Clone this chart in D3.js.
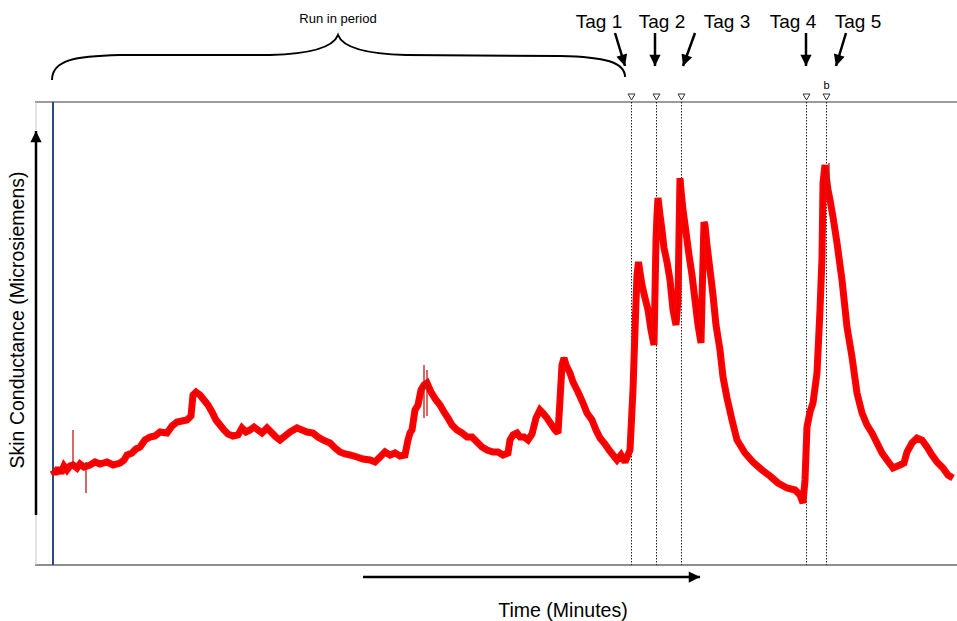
<!DOCTYPE html>
<html><head><meta charset="utf-8">
<script src="https://cdn.jsdelivr.net/npm/d3@7"></script>
<style>html,body{margin:0;padding:0;background:#fff;}svg{display:block;font-family:"Liberation Sans",Arial,sans-serif;}</style>
</head><body>
<svg id="c" width="957" height="621"></svg>
<script>
// ---- data (time in minutes, skin conductance in microsiemens, arbitrary scale) ----
const timeMin = [0,0.2,0.5,0.8,1.1,1.4,1.7,2,2.4,2.7,3.1,3.7,4.2,4.7,5.4,6,6.7,7.1,7.4,7.9,8.3,8.7,9.2,9.7,10.2,10.7,11.4,11.9,12.4,12.9,13.4,13.8,14,14.3,14.7,15.1,15.5,15.9,16.3,16.7,17.1,17.5,18,18.5,18.9,19.3,19.7,20.1,20.5,20.9,21.4,21.8,22.3,22.7,23.2,23.7,24.4,24.9,25.4,26,26.5,27,27.7,28.2,28.7,29.2,29.7,30.4,31,31.7,32.2,32.7,33.2,33.7,34.2,34.7,35.2,35.5,35.7,35.9,36.2,36.5,36.8,37.1,37.4,37.8,38.3,38.7,39.1,39.5,39.9,40.4,40.9,41.4,41.9,42.4,42.9,43.4,44,44.5,45,45.5,45.7,46,46.4,46.7,47.1,47.5,47.9,48.3,48.7,49,49.4,49.8,50.2,50.5,50.7,50.9,51.1,51.3,51.7,52,52.5,53,53.4,53.9,54.3,54.7,55.2,55.6,56,56.4,56.8,57.2,57.5,57.7,58,58.2,58.4,58.55,58.7,58.9,59.2,59.5,59.8,60.1,60.3,60.4,60.5,60.7,60.9,61.1,61.4,61.7,62,62.3,62.5,62.6,62.7,62.8,63,63.3,63.6,63.9,64.2,64.5,64.8,64.9,65.1,65.2,65.4,65.7,66,66.3,66.7,67,67.4,67.9,68.4,69.2,70,70.9,71.7,72.5,73.4,74.2,74.7,75,75.2,75.4,75.7,76,76.4,76.7,76.9,77,77.2,77.3,77.5,77.7,78,78.4,78.9,79.4,79.9,80.4,80.9,81.4,81.9,82.4,82.9,83.4,84,84.7,85.1,85.4,85.9,86.4,86.9,87.4,87.9,88.4,89,89.5,90,90.4];
const conductance = [9.5,9.1,9.7,9.2,9.9,9.5,9.9,10,9.7,10.1,9.8,10,10.3,10.1,10.3,10,10.2,10.5,11,11.2,11.6,11.8,12.5,12.8,12.9,13.3,13.2,13.9,14.3,14.4,14.5,14.9,17,17.3,17,16.5,16,15.3,14.5,14,13.5,13.1,12.9,13,13.7,13.3,13.5,13.8,13.5,13.2,13.7,13.3,12.8,12.5,12.9,13.3,13.7,13.5,13.3,13.2,12.8,12.5,12.2,11.7,11.3,11.1,11,10.8,10.6,10.5,10.3,10.8,11.3,11,11.2,10.9,11,12.5,13.2,13.5,15.5,16,17.5,18,18.2,17.3,16.5,16,15.3,14.7,14,13.5,13.2,12.8,12.8,12.3,11.8,11.5,11.3,11.3,11,11.2,12.5,13,13.2,12.8,12.8,12.5,13.1,14.7,15.5,15.2,14.7,14.1,13.5,13.2,16.5,20,20.7,20,19.2,18.3,17.3,16.2,15.2,14.5,13.5,12.7,12.1,11.5,11,10.5,11,10.3,11,11.5,17.5,23.5,29,30.3,29.3,28,26.7,25.5,23.5,22,32.5,35,36.7,35,33.5,31.7,30.3,28.5,25.5,24,26.5,33,38.7,37.5,35.5,33.3,31,29,26.5,24,22.2,26.5,34.3,34,32,29.5,27,24,21.5,18.8,16.7,14.5,12.5,11.2,10.3,9.5,8.9,8.2,7.7,7.5,7,6.2,8.5,13.8,15.3,16.2,19.2,25.5,30.7,38.2,40,39,37.5,36.5,34.8,32.2,28.5,23.8,20.8,17.2,15.2,14,13.2,12.2,11.2,10.5,9.7,10,10.2,11.3,12.2,12.7,12.5,11.8,11,10.3,9.7,9,8.7];
// thin single-sample artefacts (time, low, high)
const spikeTime = [2, 3.3, 37.1, 37.4, 77.6];
const spikeLow  = [9.7, 7.2, 14.7, 14.9, 37.0];
const spikeHigh = [13.5, 10.3, 20, 19.5, 40.2];
// event tags
const tagNames = ["Tag 1","Tag 2","Tag 3","Tag 4","Tag 5"];
const tagTime  = [57.8, 60.3, 62.8, 75.3, 77.3];
const tagMark  = ["", "", "", "", "b"];
const runInLabel = "Run in period";
const yTitle = "Skin Conductance (Microsiemens)";
const xTitle = "Time (Minutes)";

// ---- layout ----
const svg = d3.select("#c");
const x = d3.scaleLinear().domain([0, 90.4]).range([53, 957]);
const y = d3.scaleLinear().domain([0, 46.3]).range([565, 102]);
const plotLeft = 36, plotRight = 957, plotTop = 102, plotBottom = 565;

const defs = svg.append("defs");
defs.append("marker").attr("id","ah").attr("viewBox","0 0 10 10").attr("refX",10).attr("refY",5)
  .attr("markerWidth",5).attr("markerHeight",4.5).attr("markerUnits","strokeWidth").attr("orient","auto")
  .append("path").attr("d","M0,0 L10,5 L0,10 Z").attr("fill","#000");

// frame
svg.append("line").attr("x1",plotLeft-1).attr("x2",plotRight).attr("y1",plotTop).attr("y2",plotTop).attr("stroke","#7a7a7a").attr("stroke-width",1.5);
svg.append("line").attr("x1",plotLeft-1).attr("x2",plotRight).attr("y1",plotBottom).attr("y2",plotBottom).attr("stroke","#6a6a6a").attr("stroke-width",1.3);
svg.append("line").attr("x1",plotLeft).attr("x2",plotLeft).attr("y1",plotTop).attr("y2",plotBottom).attr("stroke","#c8c8c8").attr("stroke-width",1);
// start marker (blue)
svg.append("line").attr("x1",x(0)).attr("x2",x(0)).attr("y1",plotTop).attr("y2",plotBottom).attr("stroke","#2c4a86").attr("stroke-width",2);

// tag dotted lines + triangles
tagTime.forEach((t,i)=>{
  const tx = Math.round(x(t))+0.5;
  svg.append("line").attr("x1",tx).attr("x2",tx).attr("y1",plotTop).attr("y2",plotBottom)
    .attr("stroke","#222").attr("stroke-width",1).attr("stroke-dasharray","1.5,1.5");
  svg.append("path").attr("d",`M${tx-3.5},94 L${tx+3.5},94 L${tx},100 Z`).attr("fill","#fff").attr("stroke","#333").attr("stroke-width",1);
  if (tagMark[i]) svg.append("text").attr("x",tx).attr("y",89).attr("text-anchor","middle").attr("font-size",11).text(tagMark[i]);
});

// trace
const pts = timeMin.map((t,i)=>[t, conductance[i]]);
const line = d3.line().x(d=>x(d[0])).y(d=>y(d[1]));
svg.append("path").datum(pts).attr("d",line).attr("fill","none").attr("stroke","#ff0000").attr("stroke-width",7).attr("stroke-linejoin","miter").attr("stroke-miterlimit",2);
svg.append("path").datum(pts).attr("d",line).attr("fill","none").attr("stroke","#e00000").attr("stroke-width",1.2);
spikeTime.forEach((t,i)=>{
  svg.append("line").attr("x1",x(t)).attr("x2",x(t)).attr("y1",y(spikeLow[i])).attr("y2",y(spikeHigh[i])).attr("stroke","#c21818").attr("stroke-width",1.3);
});

// y axis arrow + title
svg.append("line").attr("x1",plotLeft).attr("x2",plotLeft).attr("y1",515).attr("y2",131).attr("stroke","#000").attr("stroke-width",2.5).attr("marker-end","url(#ah)");
svg.append("text").attr("transform","translate(24,320) rotate(-90)").attr("text-anchor","middle").attr("font-size",19.5).text(yTitle);

// x axis arrow + title
svg.append("line").attr("x1",363).attr("x2",700).attr("y1",577).attr("y2",577).attr("stroke","#000").attr("stroke-width",2.5).attr("marker-end","url(#ah)");
svg.append("text").attr("x",563).attr("y",617).attr("text-anchor","middle").attr("font-size",19.5).text(xTitle);

// run-in brace
svg.append("path").attr("d","M52,80 C52,60 75,56 120,55 L270,55 C310,54 333,48 338,35 C343,48 366,54 406,55 L560,56 C605,57 625,62 625,77")
  .attr("fill","none").attr("stroke","#000").attr("stroke-width",2);
svg.append("text").attr("x",338).attr("y",23).attr("text-anchor","middle").attr("font-size",13).text(runInLabel);

// tag labels + arrows (annotation layout)
const labelX = [599, 662, 727, 793, 858];
const arrowFrom = [[615,33],[655,33],[695,33],[806,33],[846,33]];
const arrowTo = [[625,66],[655,66],[683,66],[806,66],[836,66]];
tagNames.forEach((n,i)=>{
  svg.append("text").attr("x",labelX[i]).attr("y",28).attr("text-anchor","middle").attr("font-size",19).text(n);
  svg.append("line").attr("x1",arrowFrom[i][0]).attr("y1",arrowFrom[i][1]).attr("x2",arrowTo[i][0]).attr("y2",arrowTo[i][1])
    .attr("stroke","#000").attr("stroke-width",2.5).attr("marker-end","url(#ah)");
});
</script>
</body></html>
